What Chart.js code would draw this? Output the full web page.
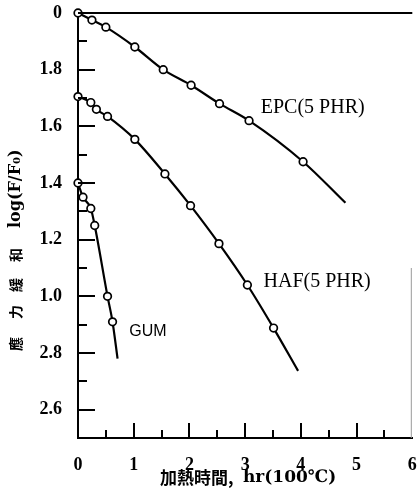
<!DOCTYPE html>
<html>
<head>
<meta charset="utf-8">
<script src="https://cdn.jsdelivr.net/npm/chart.js@4"></script>
<style>
  body { margin: 0; background: #fff; }
</style>
</head>
<body>
<canvas id="myChart" width="418" height="492"></canvas>
<script>
// tick values and labels (as printed in the figure)
const xTickVals = [0, 1, 2, 3, 4, 5, 6];
const xTickLabels = ['0', '1', '2', '3', '4', '5', '6'];
const yTickVals = [0.6, 0.8, 1.0, 1.2, 1.4, 1.6, 1.8, 2.0];
const yTickLabels = ['2.6', '2.8', '1.0', '1.2', '1.4', '1.6', '1.8', '0'];

// EPC (5 PHR)
const epcX = [0, 0.25, 0.5, 1.02, 1.53, 2.03, 2.54, 3.07, 4.04];
const epcY = [2.0, 1.975, 1.95, 1.88, 1.80, 1.745, 1.68, 1.62, 1.475];
const epcEnd = [4.8, 1.33];

// HAF (5 PHR)
const hafX = [0, 0.23, 0.33, 0.53, 1.02, 1.56, 2.02, 2.53, 3.04, 3.51];
const hafY = [1.705, 1.684, 1.66, 1.635, 1.554, 1.432, 1.32, 1.186, 1.04, 0.888];
const hafEnd = [3.95, 0.737];

// GUM
const gumX = [0, 0.09, 0.23, 0.30, 0.53, 0.62];
const gumY = [1.40, 1.35, 1.31, 1.25, 1.0, 0.91];
const gumEnd = [0.71, 0.78];

const pts = (xs, ys) => xs.map((x, i) => ({x: x, y: ys[i]}));
const linePts = (xs, ys, end) => pts(xs, ys).concat([{x: end[0], y: end[1]}]);

const markerStyle = {
    showLine: false,
    pointRadius: 3.8,
    pointBorderWidth: 1.7,
    pointBackgroundColor: '#fff',
    pointBorderColor: '#000',
    clip: false
};
const lineStyle = {
    showLine: true,
    pointRadius: 0,
    borderColor: '#000',
    borderWidth: 2.2,
    cubicInterpolationMode: 'monotone',
    clip: false
};

const frame = {
    id: 'frame',
    afterDraw(chart) {
        const {ctx, chartArea: a, scales: {x, y}} = chart;
        ctx.save();
        ctx.strokeStyle = '#000';
        // top line
        ctx.lineWidth = 2;
        ctx.beginPath();
        ctx.moveTo(a.left, a.top);
        ctx.lineTo(a.right, a.top);
        ctx.stroke();
        // faint right edge
        ctx.strokeStyle = '#999';
        ctx.lineWidth = 1;
        ctx.beginPath();
        ctx.moveTo(a.right - 1, y.getPixelForValue(1.1));
        ctx.lineTo(a.right - 1, a.bottom);
        ctx.stroke();

        // inner tick marks
        ctx.strokeStyle = '#000';
        ctx.lineWidth = 2;
        for (let k = 6; k <= 19; k++) {
            const py = Math.round(y.getPixelForValue(k / 10));
            const len = k % 2 === 0 ? 17 : 9;
            ctx.beginPath();
            ctx.moveTo(a.left, py);
            ctx.lineTo(a.left + len, py);
            ctx.stroke();
        }
        for (let k = 1; k <= 11; k++) {
            const px = Math.round(x.getPixelForValue(k / 2));
            const len = k % 2 === 0 ? 15 : 8;
            ctx.beginPath();
            ctx.moveTo(px, a.bottom);
            ctx.lineTo(px, a.bottom - len);
            ctx.stroke();
        }

        // curve labels
        ctx.fillStyle = '#000';
        ctx.textAlign = 'left';
        ctx.textBaseline = 'middle';
        ctx.font = '20px "Liberation Serif"';
        ctx.fillText('EPC(5 PHR)', x.getPixelForValue(3.28), y.getPixelForValue(1.665));
        ctx.fillText('HAF(5 PHR)', x.getPixelForValue(3.33), y.getPixelForValue(1.052));
        ctx.font = '16px "Liberation Sans"';
        ctx.fillText('GUM', x.getPixelForValue(0.92), y.getPixelForValue(0.877));

        // x title
        ctx.font = 'bold 17px "Noto Sans CJK TC"';
        ctx.fillText('加熱時間,', 160, 478);
        ctx.font = 'bold 17px "DejaVu Serif", "Noto Sans CJK TC"';
        ctx.fillText('hr(100℃)', 243, 478);

        // y title (rotated)
        ctx.translate(16, 0);
        ctx.rotate(-Math.PI / 2);
        ctx.textAlign = 'center';
        ctx.font = 'bold 14px "Noto Sans CJK TC"';
        ctx.fillText('應', -344, 0);
        ctx.fillText('力', -312, 0);
        ctx.fillText('緩', -285, 0);
        ctx.fillText('和', -255, 0);
        ctx.textAlign = 'left';
        ctx.font = 'bold 16px "DejaVu Serif"';
        ctx.fillText('log(F/F₀)', -228, 0);
        ctx.restore();
    }
};

const ctx = document.getElementById('myChart').getContext('2d');
const myChart = new Chart(ctx, {
    type: 'scatter',
    data: {
        datasets: [
            Object.assign({label: 'EPC', data: pts(epcX, epcY)}, markerStyle),
            Object.assign({label: 'HAF', data: pts(hafX, hafY)}, markerStyle),
            Object.assign({label: 'GUM', data: pts(gumX, gumY)}, markerStyle),
            Object.assign({label: 'EPC line', data: linePts(epcX, epcY, epcEnd)}, lineStyle),
            Object.assign({label: 'HAF line', data: linePts(hafX, hafY, hafEnd)}, lineStyle),
            Object.assign({label: 'GUM line', data: linePts(gumX, gumY, gumEnd)}, lineStyle)
        ]
    },
    options: {
        responsive: false,
        animation: false,
        layout: { padding: { top: 13, right: 0, bottom: 0, left: 0 } },
        plugins: { legend: { display: false }, tooltip: { enabled: false } },
        scales: {
            x: {
                type: 'linear',
                min: 0,
                max: 6,
                afterBuildTicks: s => { s.ticks = xTickVals.map(v => ({value: v})); },
                afterFit: s => { s.height = 54; s.paddingLeft = 0; s.paddingRight = 0; },
                ticks: {
                    callback: (v, i) => xTickLabels[i],
                    color: '#000',
                    font: { family: 'Liberation Serif', size: 18, weight: 'bold' },
                    padding: 9,
                    maxRotation: 0,
                    autoSkip: false
                },
                grid: { display: false },
                border: { display: true, color: '#000', width: 2 }
            },
            y: {
                type: 'linear',
                min: 0.5,
                max: 2.0,
                afterBuildTicks: s => { s.ticks = yTickVals.map(v => ({value: v})); },
                afterFit: s => { s.width = 78; s.paddingTop = 0; s.paddingBottom = 0; },
                ticks: {
                    callback: (v, i) => yTickLabels[i],
                    color: '#000',
                    font: { family: 'Liberation Serif', size: 18, weight: 'bold' },
                    padding: 8
                },
                grid: { display: false },
                border: { display: true, color: '#000', width: 2 }
            }
        }
    },
    plugins: [frame]
});
</script>
</body>
</html>
